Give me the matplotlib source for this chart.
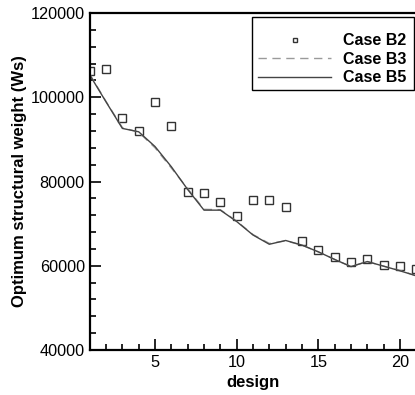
import matplotlib
matplotlib.use('Agg')
import matplotlib.pyplot as plt
from matplotlib.patches import Rectangle
from matplotlib.ticker import MultipleLocator

plt.rcParams['font.family'] = ['Liberation Sans', 'DejaVu Sans']

design = list(range(1, 22))
case_b2 = [106200, 106600, 95000, 91900, 98900, 93100, 77600, 77200, 75200, 71800,
           75600, 75500, 73900, 65900, 63700, 62100, 61000, 61600, 60200, 59900, 59200]
case_b3 = [105500, 99000, 92800, 91700, 88000, 83200, 78300, 73400, 73300, 70600,
           67400, 65300, 65900, 64900, 63300, 61500, 59800, 61000, 59900, 58900, 57600]
case_b5 = [105300, 98900, 92600, 91800, 88300, 83500, 78100, 73200, 73200, 70500,
           67300, 65100, 66000, 64900, 63300, 61500, 59800, 61000, 59900, 58800, 57600]

fig = plt.figure(figsize=(4.15, 3.95), dpi=100)
ax = fig.add_axes([89.7 / 415, 45 / 395, 326.6 / 415, 337 / 395])

ax.plot(design, case_b2, linestyle='none', marker='s', markersize=6,
        markerfacecolor='none', markeredgecolor='#333333', markeredgewidth=1.0, label='Case B2')
ax.plot(design, case_b3, color='#9a9a9a', linestyle=(0, (6, 4)), linewidth=1.0, label='Case B3')
ax.plot(design, case_b5, color='#444444', linewidth=1.0, label='Case B5')

ax.set_xlim(1, 21)
ax.set_ylim(40000, 120000)
ax.xaxis.set_major_locator(MultipleLocator(5))
ax.xaxis.set_minor_locator(MultipleLocator(1))
ax.yaxis.set_major_locator(MultipleLocator(20000))
ax.yaxis.set_minor_locator(MultipleLocator(4000))
ax.tick_params(which='both', direction='in', labelsize=11.7, width=1.2)
ax.tick_params(which='major', length=8)
ax.tick_params(which='minor', length=4)
for s in ax.spines.values():
    s.set_linewidth(1.6)

ax.set_xlabel('design', fontsize=12, fontweight='bold', labelpad=4)
ax.set_ylabel('Optimum structural weight (Ws)', fontsize=12, fontweight='bold', labelpad=3)

# legend box drawn separately (the original has extra space above the entries)
ax.add_patch(Rectangle((0.496, 0.7715), 0.497, 0.2165, transform=ax.transAxes,
                       facecolor='white', edgecolor='black', linewidth=1.0, zorder=4))
leg = ax.legend(loc='upper left', bbox_to_anchor=(0.515, 0.94), frameon=False,
                borderaxespad=0, borderpad=0, handlelength=4.6, handletextpad=0.75,
                labelspacing=0.22, markerscale=0.6,
                prop={'weight': 'bold', 'size': 11.5})
leg.set_zorder(5)

fig.savefig('out.png', dpi=100)
